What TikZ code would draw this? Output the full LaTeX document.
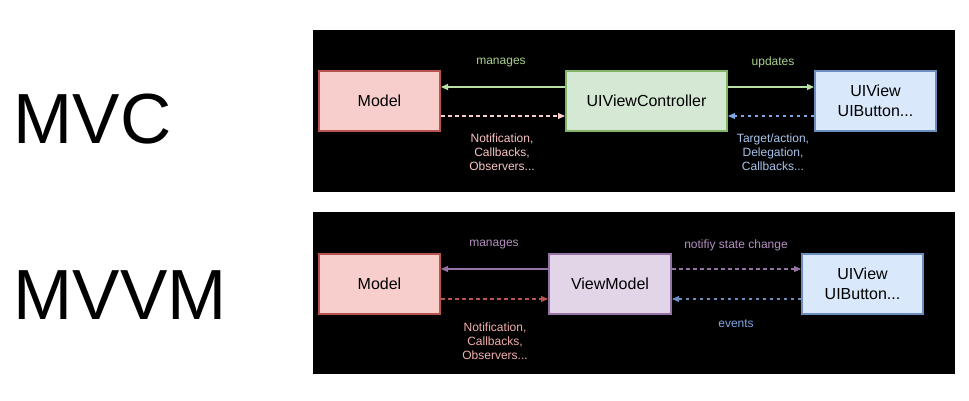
\documentclass[tikz,border=0pt]{standalone}
\usepackage{fontspec}
\setmainfont{Liberation Sans}
\usetikzlibrary{arrows.meta}
\definecolor{redF}{HTML}{F8CECC}\definecolor{redS}{HTML}{B85450}
\definecolor{grnF}{HTML}{D5E8D4}\definecolor{grnS}{HTML}{82B366}
\definecolor{bluF}{HTML}{DAE8FC}\definecolor{bluS}{HTML}{6C8EBF}
\definecolor{purF}{HTML}{E1D5E7}\definecolor{purS}{HTML}{9673A6}
\definecolor{grnT}{HTML}{A9D18E}\definecolor{grnL}{HTML}{B9E0A5}
\definecolor{pinkT}{HTML}{F8C4C2}\definecolor{pinkT2}{HTML}{F2B0AD}
\definecolor{bluT}{HTML}{A9C4EB}\definecolor{bluL}{HTML}{7EA6E0}
\definecolor{purT}{HTML}{B48EBF}
\begin{document}
\begin{tikzpicture}[x=1pt,y=-1pt,
  box/.style={draw,line width=2pt,minimum height=60pt,inner sep=0pt,align=center,
    font=\fontsize{16}{20}\selectfont,text=black},
  lbl/.style={inner sep=0pt,align=center,font=\fontsize{12}{14}\selectfont},
  conn/.style={line width=1.1pt,-{Triangle[length=7pt,width=6pt]}},
  dsh/.style={conn,dash pattern=on 3.5pt off 3.5pt},
  big/.style={inner sep=0pt,anchor=base west,font=\fontsize{71}{80}\selectfont,text=black}]
\useasboundingbox (0,0) rectangle (969,401);
\fill[white] (0,0) rectangle (969,401);
\fill[black] (313,30) rectangle (955,192);
\fill[black] (313,212) rectangle (955,374);
\node[big] (mvc) at (13.5,143) {MVC};
\node[big] (mvvm) at (13.5,319) {MVVM};
% MVC
\node[box,fill=redF,draw=redS,minimum width=121pt] (m1) at (379.5,101) {Model};
\node[box,fill=grnF,draw=grnS,minimum width=161pt] (c1) at (646.5,101) {UIViewController};
\node[box,fill=bluF,draw=bluS,minimum width=121pt] (v1) at (875.5,101) {UIView\\UIButton...};
\draw[conn,draw=grnL] ([yshift=14pt]c1.west) -- ([yshift=14pt]m1.east);
\draw[dsh,draw=redF] ([yshift=-15pt]m1.east) -- ([yshift=-15pt]c1.west);
\draw[conn,draw=grnL] ([yshift=14pt]c1.east) -- ([yshift=14pt]v1.west);
\draw[dsh,draw=bluL] ([yshift=-15pt]v1.west) -- ([yshift=-15pt]c1.east);
\node[lbl,text=grnT] (l1) at (501,63) {manages};
\node[lbl,text=pinkT] (l2) at (502,152) {Notification,\\Callbacks,\\Observers...};
\node[lbl,text=grnT] (l3) at (773,62) {updates};
\node[lbl,text=bluT] (l4) at (773,152) {Target/action,\\Delegation,\\Callbacks...};
% MVVM
\node[box,fill=redF,draw=redS,minimum width=121pt] (m2) at (379.5,284) {Model};
\node[box,fill=purF,draw=purS,minimum width=122pt] (vm) at (610,284) {ViewModel};
\node[box,fill=bluF,draw=bluS,minimum width=121pt] (v2) at (862.5,284) {UIView\\UIButton...};
\draw[conn,draw=purS] ([yshift=15pt]vm.west) -- ([yshift=15pt]m2.east);
\draw[dsh,draw=redS] ([yshift=-15pt]m2.east) -- ([yshift=-15pt]vm.west);
\draw[dsh,draw=purS] ([yshift=15pt]vm.east) -- ([yshift=15pt]v2.west);
\draw[dsh,draw=bluS] ([yshift=-15pt]v2.west) -- ([yshift=-15pt]vm.east);
\node[lbl,text=purT] (l5) at (494,245) {manages};
\node[lbl,text=pinkT2] (l6) at (495,341) {Notification,\\Callbacks,\\Observers...};
\node[lbl,text=purT] (l7) at (736,245) {notifiy state change};
\node[lbl,text=bluL] (l8) at (736,324) {events};
\end{tikzpicture}
\end{document}
